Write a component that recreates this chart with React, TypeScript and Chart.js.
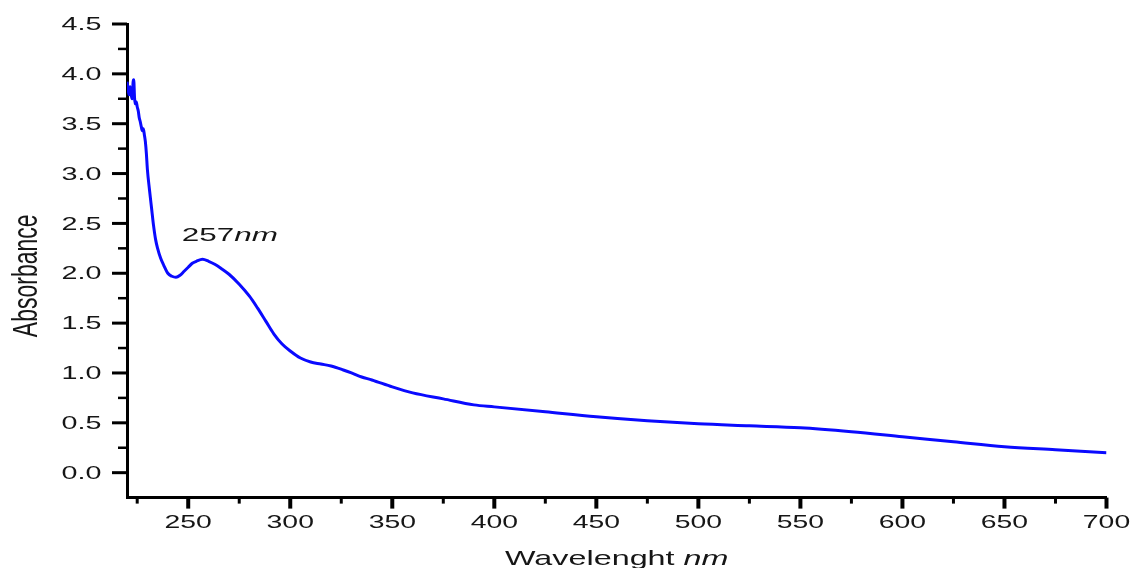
import React, { useEffect, useRef } from "react";
import { Chart, registerables } from "chart.js";

Chart.register(...registerables);

// ---- data ----
const wavelengths = [
  220, 220.5, 221, 221.5, 222, 222.5, 223, 223.3, 223.7, 224, 224.5, 225, 225.5, 226, 226.5,
  227, 227.5, 228, 228.5, 229, 229.5, 230, 231, 232, 233, 234, 235, 236.5, 238, 240, 242, 244,
  246, 248, 250, 252, 254, 257, 260, 263, 266, 270, 275, 280, 284, 288, 292, 296, 300, 305,
  310, 315, 320, 326, 330, 335, 340, 350, 360, 375, 390, 400, 425, 450, 475, 500, 525, 550,
  575, 600, 625, 650, 675, 700,
];
const absorbance = [
  3.92, 3.85, 3.79, 3.87, 3.8, 3.75, 3.92, 3.94, 3.76, 3.7, 3.72, 3.67, 3.63, 3.56, 3.52,
  3.47, 3.43, 3.45, 3.39, 3.32, 3.2, 3.04, 2.84, 2.66, 2.48, 2.34, 2.25, 2.15, 2.08, 2.0, 1.97, 1.96,
  1.98, 2.02, 2.06, 2.1, 2.12, 2.14, 2.12, 2.09, 2.05, 1.99, 1.89, 1.77, 1.65, 1.52, 1.39, 1.29, 1.22, 1.15,
  1.11, 1.09, 1.07, 1.03, 1.0, 0.96, 0.93, 0.86, 0.8, 0.74, 0.68, 0.66, 0.61, 0.56, 0.52, 0.49, 0.47, 0.45,
  0.41, 0.36, 0.31, 0.26, 0.23, 0.2,
];

const xMajorTicks = [250, 300, 350, 400, 450, 500, 550, 600, 650, 700];
const xMinorTicks = [225, 275, 325, 375, 425, 475, 525, 575, 625, 675];
const yMajorTicks = [0, 0.5, 1, 1.5, 2, 2.5, 3, 3.5, 4, 4.5];
const yMinorTicks = [0.25, 0.75, 1.25, 1.75, 2.25, 2.75, 3.25, 3.75, 4.25];
const xLabels = ["250", "300", "350", "400", "450", "500", "550", "600", "650", "700"];
const yLabels = ["0.0", "0.5", "1.0", "1.5", "2.0", "2.5", "3.0", "3.5", "4.0", "4.5"];

const xTitleParts = [
  { text: "Wavelenght ", italic: false },
  { text: "nm", italic: true },
];
const yTitle = "Absorbance";
const annotationParts = [
  { text: "257", italic: false },
  { text: "nm", italic: true },
];
const annotationX = 246.8;
const annotationY = 2.32;

const FONT = "'Liberation Sans', Arial, sans-serif";
const TEXT_COLOR = "#161616";

type Part = { text: string; italic: boolean };

function drawParts(
  ctx: CanvasRenderingContext2D,
  parts: Part[],
  x: number,
  y: number,
  size: number,
  sx: number,
  align: "left" | "center" | "right"
) {
  const fontOf = (p: Part) => `${p.italic ? "italic " : ""}${size}px ${FONT}`;
  let total = 0;
  const widths = parts.map((p) => {
    ctx.font = fontOf(p);
    const w = ctx.measureText(p.text).width;
    total += w;
    return w;
  });
  let start = 0;
  if (align === "center") start = -total / 2;
  else if (align === "right") start = -total;
  ctx.save();
  ctx.translate(x, y);
  ctx.scale(sx, 1);
  ctx.textAlign = "left";
  ctx.textBaseline = "alphabetic";
  ctx.fillStyle = TEXT_COLOR;
  let cx = start;
  parts.forEach((p, i) => {
    ctx.font = fontOf(p);
    ctx.fillText(p.text, cx, 0);
    cx += widths[i];
  });
  ctx.restore();
}

const axisPlugin = {
  id: "originAxes",
  afterDraw(chart: any) {
    const ctx: CanvasRenderingContext2D = chart.ctx;
    const xs = chart.scales.x;
    const ys = chart.scales.y;
    const area = chart.chartArea;
    const left = area.left;
    const bottom = area.bottom;

    ctx.save();
    ctx.strokeStyle = "#000";
    ctx.lineCap = "butt";
    // y ticks (outward, left)
    ctx.lineWidth = 3;
    yMajorTicks.forEach((v) => {
      const py = ys.getPixelForValue(v);
      ctx.beginPath();
      ctx.moveTo(left - 15, py);
      ctx.lineTo(left, py);
      ctx.stroke();
    });
    ctx.lineWidth = 2.5;
    yMinorTicks.forEach((v) => {
      const py = ys.getPixelForValue(v);
      ctx.beginPath();
      ctx.moveTo(left - 9, py);
      ctx.lineTo(left, py);
      ctx.stroke();
    });
    // x ticks (outward, down)
    ctx.lineWidth = 4;
    xMajorTicks.forEach((v) => {
      const px = xs.getPixelForValue(v);
      ctx.beginPath();
      ctx.moveTo(px, bottom);
      ctx.lineTo(px, bottom + 11);
      ctx.stroke();
    });
    ctx.lineWidth = 3;
    xMinorTicks.forEach((v) => {
      const px = xs.getPixelForValue(v);
      ctx.beginPath();
      ctx.moveTo(px, bottom);
      ctx.lineTo(px, bottom + 6);
      ctx.stroke();
    });
    ctx.restore();

    // tick labels
    yMajorTicks.forEach((v, i) => {
      const py = ys.getPixelForValue(v);
      drawParts(ctx, [{ text: yLabels[i], italic: false }], left - 25.5, py + 6.2, 17.5, 1.64, "right");
    });
    xMajorTicks.forEach((v, i) => {
      const px = xs.getPixelForValue(v);
      drawParts(ctx, [{ text: xLabels[i], italic: false }], px, bottom + 30, 17.5, 1.62, "center");
    });

    // axis titles
    const midX = (area.left + area.right) / 2;
    drawParts(ctx, xTitleParts, midX, 565, 21, 1.54, "center");

    ctx.save();
    ctx.translate(36.5, (area.top + area.bottom) / 2 + 15);
    ctx.scale(1.55, 1);
    ctx.rotate(-Math.PI / 2);
    ctx.font = `23px ${FONT}`;
    ctx.fillStyle = TEXT_COLOR;
    ctx.textAlign = "center";
    ctx.textBaseline = "alphabetic";
    ctx.fillText(yTitle, 0, 0);
    ctx.restore();

    // peak annotation
    drawParts(
      ctx,
      annotationParts,
      xs.getPixelForValue(annotationX),
      ys.getPixelForValue(annotationY),
      18.5,
      1.7,
      "left"
    );
  },
};

export default function App() {
  const canvasRef = useRef<HTMLCanvasElement | null>(null);

  useEffect(() => {
    document.body.style.margin = "0";
    const canvas = canvasRef.current;
    if (!canvas) return;
    const points = wavelengths.map((w, i) => ({ x: w, y: absorbance[i] }));
    const chart = new Chart(canvas, {
      type: "scatter",
      data: {
        datasets: [
          {
            data: points,
            showLine: true,
            borderColor: "#0a0aff",
            backgroundColor: "#0a0aff",
            borderWidth: 3,
            pointRadius: 0,
            pointHoverRadius: 0,
            cubicInterpolationMode: "monotone",
            fill: false,
          },
        ],
      },
      options: {
        animation: false,
        responsive: false,
        maintainAspectRatio: false,
        events: [],
        layout: { padding: { top: 24, right: 24.5, left: 0, bottom: 0 } },
        plugins: {
          legend: { display: false },
          tooltip: { enabled: false },
          title: { display: false },
        },
        scales: {
          x: {
            type: "linear",
            min: 220,
            max: 700,
            grid: { display: false, drawTicks: false },
            border: { display: true, color: "#000", width: 3 },
            ticks: { display: false },
            afterFit: (scale: any) => {
              scale.height = 70.4;
            },
          },
          y: {
            type: "linear",
            min: -0.25,
            max: 4.5,
            grid: { display: false, drawTicks: false },
            border: { display: true, color: "#000", width: 3 },
            ticks: { display: false },
            afterFit: (scale: any) => {
              scale.width = 127;
            },
          },
        },
      },
      plugins: [axisPlugin],
    });
    return () => chart.destroy();
  }, []);

  return (
    <div style={{ position: "absolute", left: 0, top: 0, width: 1131, height: 568, background: "#fff" }}>
      <canvas ref={canvasRef} width={1131} height={568} style={{ display: "block", width: 1131, height: 568 }} />
    </div>
  );
}
